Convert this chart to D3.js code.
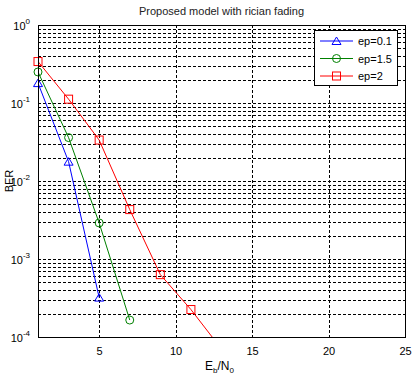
<!DOCTYPE html>
<html>
<head>
<meta charset="utf-8">
<script src="https://cdn.jsdelivr.net/npm/d3@7"></script>
<style>
  body { margin: 0; background: #fff; }
  text { font-family: "Liberation Sans", Arial, sans-serif; }
</style>
</head>
<body>
<svg id="chart" width="417" height="378"></svg>
<script>
// data
var snr = [1, 3, 5, 7, 9, 11, 13];
var berA = [0.18, 0.0177, 3.2e-4];                              // ep=0.1
var berB = [0.25, 0.036, 0.0029, 1.65e-4];                      // ep=1.5
var berC = [0.34, 0.112, 0.0335, 0.0043, 6.3e-4, 2.25e-4, 7e-5]; // ep=2
var names = ["ep=0.1", "ep=1.5", "ep=2"];
var colors = ["#0000ff", "#008000", "#ff0000"];
var markers = ["triangle", "circle", "square"];
var xTicks = [5, 10, 15, 20, 25];
var yTicks = [1, 0.1, 0.01, 0.001, 0.0001];

var svg = d3.select("#chart"),
    margin = {top: 25, right: 12, bottom: 41, left: 38},
    width = +svg.attr("width") - margin.left - margin.right,
    height = +svg.attr("height") - margin.top - margin.bottom;

var x = d3.scaleLinear().domain([1, 25]).range([0, width]),
    y = d3.scaleLog().domain([1e-4, 1]).range([height, 0]);

svg.append("defs").append("clipPath").attr("id", "clip")
  .append("rect").attr("width", width).attr("height", height);

var g = svg.append("g")
    .attr("transform", "translate(" + margin.left + "," + margin.top + ")");

g.append("rect").attr("width", width).attr("height", height).attr("fill", "#fff");

// grid lines
var minor = [];
[1e-4, 1e-3, 1e-2, 1e-1].forEach(function (d) {
  for (var k = 1; k <= 9; k++) minor.push(d * k);
});
g.append("g").selectAll("line").data(minor.filter(function (d) { return d > 1e-4; }))
  .enter().append("line")
    .attr("x1", 0).attr("x2", width)
    .attr("y1", function (d) { return Math.round(y(d)) + 0.5; })
    .attr("y2", function (d) { return Math.round(y(d)) + 0.5; })
    .attr("stroke", "#000").attr("stroke-width", 1)
    .attr("stroke-dasharray", "3,2");

g.append("g").selectAll("line").data([5, 10, 15, 20])
  .enter().append("line")
    .attr("x1", function (d) { return Math.round(x(d)) + 0.5; })
    .attr("x2", function (d) { return Math.round(x(d)) + 0.5; })
    .attr("y1", 0).attr("y2", height)
    .attr("stroke", "#000").attr("stroke-width", 1)
    .attr("stroke-dasharray", "3,2");

// axes
g.append("g")
  .attr("transform", "translate(0," + height + ")")
  .call(d3.axisBottom(x).tickValues(xTicks).tickSize(0).tickPadding(10))
  .call(function (s) { s.select(".domain").remove(); })
  .selectAll("text").attr("font-size", 11).attr("fill", "#000");

var yAxis = g.append("g").attr("class", "yaxis");
yAxis.selectAll("text").data(yTicks).enter().append("text")
  .attr("x", -8).attr("y", function (d) { return y(d) + 5; })
  .attr("text-anchor", "end").attr("font-size", 11)
  .each(function (d) {
    var t = d3.select(this);
    t.append("tspan").text("10");
    t.append("tspan").attr("dy", -6).attr("font-size", 8).text(Math.round(Math.log10(d)));
  });

// lines
var lineGen = d3.line()
  .x(function (d) { return x(d[0]); })
  .y(function (d) { return y(d[1]); });

var series = [berA, berB, berC].map(function (vals) {
  return vals.map(function (v, i) { return [snr[i], v]; });
});

var plot = g.append("g").attr("clip-path", "url(#clip)");
series.forEach(function (s, i) {
  plot.append("path").datum(s)
    .attr("d", lineGen)
    .attr("fill", "none")
    .attr("stroke", colors[i])
    .attr("stroke-width", 1);
});

function marker(sel, type, color) {
  if (type === "triangle") {
    sel.append("path").attr("d", "M0,-4L4.5,3.5L-4.5,3.5Z");
  } else if (type === "circle") {
    sel.append("circle").attr("r", 4);
  } else {
    sel.append("rect").attr("x", -4).attr("y", -4).attr("width", 8).attr("height", 8);
  }
  sel.selectAll("*").attr("fill", "none").attr("stroke", color).attr("stroke-width", 1);
}

var mk = g.append("g");
series.forEach(function (s, i) {
  s.filter(function (d) { return d[1] >= 1e-4; }).forEach(function (d) {
    var m = mk.append("g").attr("transform", "translate(" + x(d[0]) + "," + y(d[1]) + ")");
    marker(m, markers[i], colors[i]);
  });
});

// axes box
g.append("rect").attr("x", 0.5).attr("y", 0.5)
  .attr("width", width).attr("height", height)
  .attr("fill", "none").attr("stroke", "#000").attr("stroke-width", 1);

// legend
var lg = g.append("g").attr("transform", "translate(" + (width - 91) + ",5)");
lg.append("rect").attr("x", 0.5).attr("y", 0.5).attr("width", 83).attr("height", 55)
  .attr("fill", "#fff").attr("stroke", "#000");
names.forEach(function (n, i) {
  var row = lg.append("g").attr("transform", "translate(0," + (11 + i * 17.5) + ")");
  row.append("line").attr("x1", 6).attr("x2", 39).attr("y1", 0).attr("y2", 0)
    .attr("stroke", colors[i]);
  var m = row.append("g").attr("transform", "translate(22.5,0)");
  marker(m, markers[i], colors[i]);
  row.append("text").attr("x", 44).attr("y", 4).attr("font-size", 11).text(n);
});

// title and labels
svg.append("text").attr("x", margin.left + width / 2).attr("y", 15)
  .attr("text-anchor", "middle").attr("font-size", 11).attr("fill", "#222")
  .text("Proposed model with rician fading");

svg.append("text")
  .attr("transform", "translate(13," + (margin.top + height / 2) + ") rotate(-90)")
  .attr("text-anchor", "middle").attr("font-size", 11).text("BER");

var xl = svg.append("text").attr("x", margin.left + width / 2 - 2).attr("y", 370)
  .attr("text-anchor", "middle").attr("font-size", 12);
xl.append("tspan").text("E");
xl.append("tspan").attr("font-size", 8).attr("dy", 3).text("b");
xl.append("tspan").attr("dy", -3).text("/N");
xl.append("tspan").attr("font-size", 8).attr("dy", 3).text("0");
</script>
</body>
</html>
